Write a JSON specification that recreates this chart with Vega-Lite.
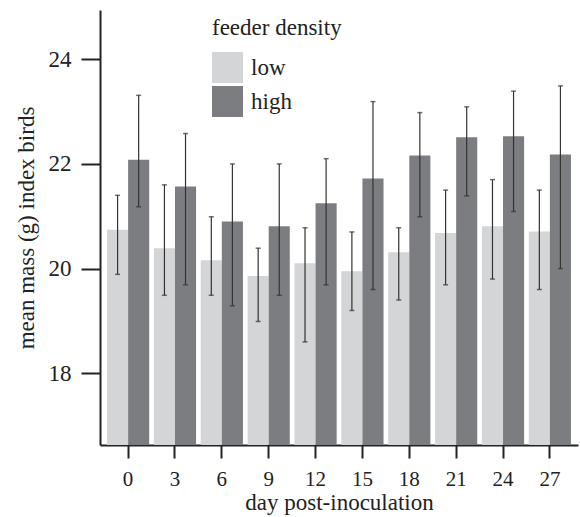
{
  "$schema": "https://vega.github.io/schema/vega-lite/v6.json",
  "width": 478,
  "height": 435,
  "autosize": "none",
  "padding": {"left": 100, "top": 10, "right": 2, "bottom": 72},
  "background": "white",
  "config": {
    "font": "Liberation Serif",
    "view": {"stroke": null},
    "axis": {"grid": false, "domainColor": "#222", "domainWidth": 2, "tickColor": "#222", "tickWidth": 2, "labelColor": "#222", "titleColor": "#222", "titleFontWeight": "normal", "labelFont": "Liberation Serif", "titleFont": "Liberation Serif"},
    "legend": {"labelFont": "Liberation Serif", "titleFont": "Liberation Serif"}
  },
  "data": {
    "values": [
      {"day": "0", "density": "low", "mean": 20.74, "lo": 19.89, "hi": 21.40},
      {"day": "0", "density": "high", "mean": 22.08, "lo": 21.18, "hi": 23.31},
      {"day": "3", "density": "low", "mean": 20.39, "lo": 19.49, "hi": 21.60},
      {"day": "3", "density": "high", "mean": 21.57, "lo": 19.69, "hi": 22.58},
      {"day": "6", "density": "low", "mean": 20.16, "lo": 19.49, "hi": 20.99},
      {"day": "6", "density": "high", "mean": 20.90, "lo": 19.29, "hi": 22.00},
      {"day": "9", "density": "low", "mean": 19.86, "lo": 18.99, "hi": 20.39},
      {"day": "9", "density": "high", "mean": 20.81, "lo": 19.49, "hi": 22.00},
      {"day": "12", "density": "low", "mean": 20.10, "lo": 18.60, "hi": 20.78},
      {"day": "12", "density": "high", "mean": 21.25, "lo": 19.69, "hi": 22.10},
      {"day": "15", "density": "low", "mean": 19.95, "lo": 19.20, "hi": 20.70},
      {"day": "15", "density": "high", "mean": 21.72, "lo": 19.60, "hi": 23.19},
      {"day": "18", "density": "low", "mean": 20.31, "lo": 19.40, "hi": 20.78},
      {"day": "18", "density": "high", "mean": 22.16, "lo": 20.99, "hi": 22.98},
      {"day": "21", "density": "low", "mean": 20.68, "lo": 19.69, "hi": 21.50},
      {"day": "21", "density": "high", "mean": 22.51, "lo": 21.39, "hi": 23.09},
      {"day": "24", "density": "low", "mean": 20.81, "lo": 19.80, "hi": 21.70},
      {"day": "24", "density": "high", "mean": 22.53, "lo": 21.09, "hi": 23.39},
      {"day": "27", "density": "low", "mean": 20.71, "lo": 19.60, "hi": 21.50},
      {"day": "27", "density": "high", "mean": 22.18, "lo": 20.00, "hi": 23.49}
    ]
  },
  "encoding": {
    "x": {
      "field": "day", "type": "nominal", "sort": null,
      "scale": {"paddingInner": 0.1, "paddingOuter": 0.15},
      "axis": {"title": "day post-inoculation", "labelAngle": 0, "labelFontSize": 21, "titleFontSize": 23, "tickSize": 13, "labelPadding": 10, "titlePadding": 2}
    },
    "xOffset": {"field": "density", "type": "nominal", "sort": ["low", "high"], "scale": {"paddingInner": 0, "paddingOuter": 0}}
  },
  "layer": [
    {
      "mark": {"type": "bar", "clip": true},
      "encoding": {
        "y": {
          "field": "mean", "type": "quantitative",
          "scale": {"domain": [16.63, 24.94], "zero": false, "nice": false},
          "axis": {"title": "mean mass (g) index birds", "values": [18, 20, 22, 24], "labelFontSize": 23, "titleFontSize": 23, "tickSize": 19, "labelPadding": 10, "titlePadding": 10}
        },
        "color": {
          "field": "density", "type": "nominal",
          "scale": {"domain": ["low", "high"], "range": ["#d4d5d7", "#7c7d81"]},
          "legend": {
            "title": "feeder density", "orient": "none", "legendX": 112, "legendY": 7,
            "titleFontSize": 23, "titleFontWeight": "normal", "labelFontSize": 23,
            "symbolType": "square", "symbolSize": 961, "symbolStrokeWidth": 0, "symbolOpacity": 1,
            "titlePadding": 12, "rowPadding": 3, "labelOffset": 8, "padding": 0,
            "titleColor": "#222", "labelColor": "#222"
          }
        }
      }
    },
    {
      "mark": {"type": "rule", "color": "#333", "strokeWidth": 1.2},
      "encoding": {
        "y": {"field": "lo", "type": "quantitative"},
        "y2": {"field": "hi"}
      }
    },
    {
      "mark": {"type": "tick", "color": "#333", "thickness": 1.5, "size": 5},
      "encoding": {"y": {"field": "lo", "type": "quantitative"}}
    },
    {
      "mark": {"type": "tick", "color": "#333", "thickness": 1.5, "size": 5},
      "encoding": {"y": {"field": "hi", "type": "quantitative"}}
    }
  ]
}
